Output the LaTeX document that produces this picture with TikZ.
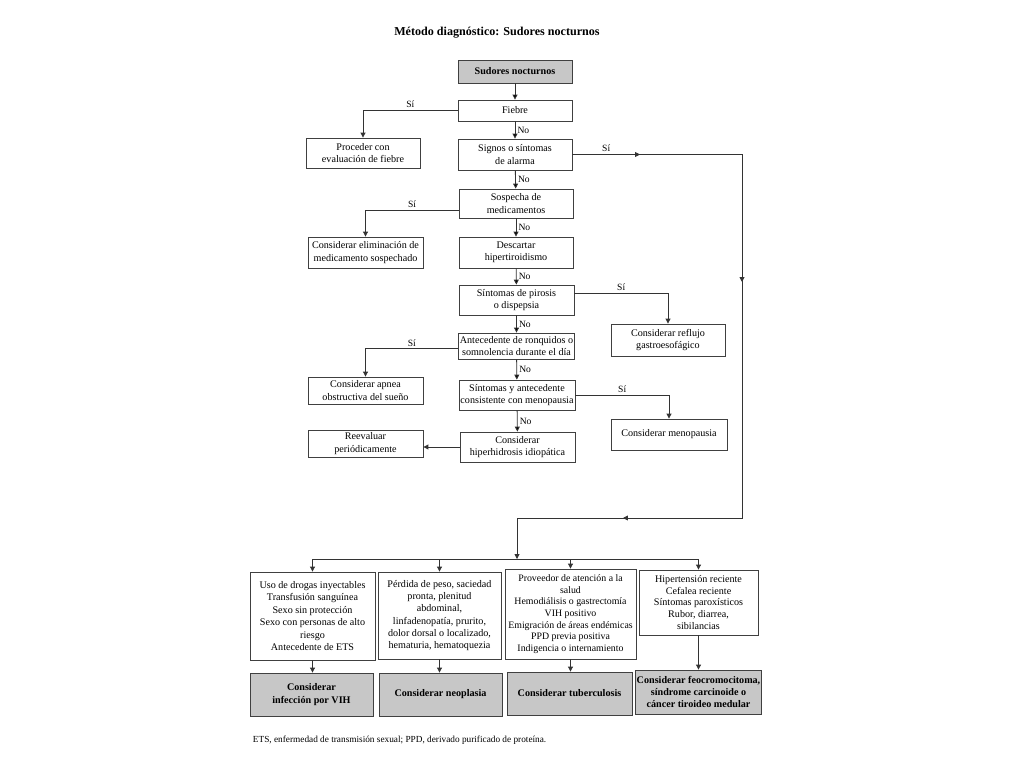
\documentclass[tikz,border=0pt]{standalone}
\usepackage{fontspec}
\setmainfont{Liberation Serif}
\usetikzlibrary{arrows.meta}

\begin{document}
\begin{tikzpicture}[x=0.025cm, y=-0.025cm]
	\tikzset{box/.style={draw=black!75, line width=0.6pt, fill=white, align=center, inner sep=1pt, minimum width=2.875cm, minimum height=0.75cm, font=\fontsize{7.2}{8.8}\selectfont}}
	\tikzset{res/.style={box, fill=black!22, font=\fontsize{7.2}{8.8}\selectfont\bfseries}}
	\tikzset{ln/.style={draw=black!80, line width=0.6pt}}
	\tikzset{ar/.style={ln, -{Triangle[length=3.5pt, width=3.5pt]}}}
	\tikzset{lbl/.style={font=\fontsize{6.8}{8}\selectfont, inner sep=1.5pt}}
	\useasboundingbox (0,0) rectangle (1024,768);
	\node[font=\fontsize{8.6}{10}\selectfont\bfseries] at (497,33) (tit) {Método diagnóstico: Sudores nocturnos};
	% main column
	\node[res, minimum width=2.85cm, minimum height=0.575cm] at (515,71.5) (sud) {Sudores nocturnos};
	\node[box, minimum width=2.85cm, minimum height=0.525cm] at (515,110.5) (fie) {Fiebre};
	\node[box, minimum width=2.85cm, minimum height=0.775cm] at (515,154.5) (sig) {Signos o síntomas\\de alarma};
	\node[box, minimum width=2.85cm, minimum height=0.725cm] at (516,203.5) (sos) {Sospecha de\\medicamentos};
	\node[box, minimum width=2.85cm, minimum height=0.775cm] at (516,252.5) (des) {Descartar\\hipertiroidismo};
	\node[box] at (516.5,300) (pir) {Síntomas de pirosis\\o dispepsia};
	\node[box, minimum height=0.65cm] at (516.5,346) (ant) {Antecedente de ronquidos o\\somnolencia durante el día};
	\node[box, minimum width=2.9cm] at (517,395) (sya) {Síntomas y antecedente\\consistente con menopausia};
	\node[box] at (517.5,447) (hip) {Considerar\\hiperhidrosis idiopática};
	% left column
	\node[box, minimum width=2.85cm] at (363,153) (pro) {Proceder con\\evaluación de fiebre};
	\node[box, minimum height=0.775cm] at (365.5,252.5) (eli) {Considerar eliminación de\\medicamento sospechado};
	\node[box, minimum height=0.675cm] at (365.5,390.5) (apn) {Considerar apnea\\obstructiva del sueño};
	\node[box, minimum height=0.675cm] at (365.5,443.5) (ree) {Reevaluar\\periódicamente};
	% right column
	\node[box, minimum width=2.85cm, minimum height=0.8cm] at (668,340) (ref) {Considerar reflujo\\gastroesofágico};
	\node[box, minimum width=2.9cm, minimum height=0.775cm] at (669,434.5) (men) {Considerar menopausia};
	% bottom row
	\node[box, minimum width=3.125cm, minimum height=2.2cm] at (312.5,616) (b1) {Uso de drogas inyectables\\Transfusión sanguínea\\Sexo sin protección\\Sexo con personas de alto\\riesgo\\Antecedente de ETS};
	\node[box, minimum width=3.075cm, minimum height=2.175cm] at (439.5,615.5) (b2) {Pérdida de peso, saciedad\\pronta, plenitud\\abdominal,\\linfadenopatía, prurito,\\dolor dorsal o localizado,\\hematuria, hematoquezia};
	\node[box, minimum width=3.275cm, minimum height=2.25cm, font=\fontsize{7}{8.3}\selectfont] at (570.5,614) (b3) {Proveedor de atención a la\\salud\\Hemodiálisis o gastrectomía\\VIH positivo\\Emigración de áreas endémicas\\PPD previa positiva\\Indigencia o internamiento};
	\node[box, minimum width=2.975cm, minimum height=1.625cm, font=\fontsize{7.2}{8.2}\selectfont] at (698.5,602.5) (b4) {Hipertensión reciente\\Cefalea reciente\\Síntomas paroxísticos\\Rubor, diarrea,\\sibilancias};
	\node[res, minimum width=3.075cm, minimum height=1.075cm] at (311.5,694.5) (g1) {Considerar\\infección por VIH};
	\node[res, minimum width=3.075cm, minimum height=1.075cm] at (440.5,694.5) (g2) {Considerar neoplasia};
	\node[res, minimum width=3.125cm, minimum height=1.075cm] at (569.5,693.5) (g3) {Considerar tuberculosis};
	\node[res, minimum width=3.075cm, minimum height=1.1cm] at (698.5,692) (g4) {Considerar feocromocitoma,\\síndrome carcinoide o\\cáncer tiroideo medular};
	\node[anchor=west, font=\fontsize{6.6}{8}\selectfont] at (248,740) (nota) {ETS, enfermedad de transmisión sexual; PPD, derivado purificado de proteína.};
	% long loop on the right
	\coordinate (m1) at (640,154.5);
	\coordinate (c1) at (742,154.5);
	\coordinate (m2) at (742,282);
	\coordinate (c2) at (742,518);
	\coordinate (m3) at (623,518);
	\coordinate (c3) at (517,518);
	\coordinate (c4) at (517,559);
	% arrows
	\path[ar] (sud) edge (fie);
	\path[ar] (fie) edge node[lbl, right] {No} (sig);
	\path[ar] (sig) edge node[lbl, right] {No} (sos);
	\path[ar] (sos) edge node[lbl, right] {No} (des);
	\path[ar] (des) edge node[lbl, right] {No} (pir);
	\path[ar] (pir) edge node[lbl, right] {No} (ant);
	\path[ar] (ant) edge node[lbl, right] {No} (sya);
	\path[ar] (sya) edge node[lbl, right] {No} (hip);
	\draw[ar] (hip.west) -- (hip.west -| ree.east);
	\draw[ar] (fie.west) -| node[lbl, above, pos=0.25] {Sí} (pro.north);
	\draw[ar] ([yshift=-0.175cm]sos.west) -| node[lbl, above, pos=0.25] {Sí} (eli.north);
	\draw[ar] ([yshift=-0.07cm]ant.west) -| node[lbl, above, pos=0.25] {Sí} (apn.north);
	\draw[ar] ([yshift=0.175cm]pir.east) -| node[lbl, above, pos=0.25] {Sí} (ref.north);
	\draw[ar] (sya.east) -| node[lbl, above, pos=0.25] {Sí} (men.north);
	\draw[ln] (sig.east) -- (c1) -- (c2) -- (c3);
	\draw[ar] (sig.east) -- node[lbl, above] {Sí} (m1);
	\draw[ar] (c1) -- (m2);
	\draw[ar] (c2) -- (m3);
	\draw[ar] (c3) -- (c4);
	\draw[ln] (b1.north |- c4) -- (b4.north |- c4);
	\draw[ar] (b1.north |- c4) -- (b1.north);
	\draw[ar] (b2.north |- c4) -- (b2.north);
	\draw[ar] (b3.north |- c4) -- (b3.north);
	\draw[ar] (b4.north |- c4) -- (b4.north);
	\draw[ar] (b1.south) -- (b1.south |- g1.north);
	\draw[ar] (b2.south) -- (b2.south |- g2.north);
	\draw[ar] (b3.south) -- (b3.south |- g3.north);
	\draw[ar] (b4.south) -- (b4.south |- g4.north);
\end{tikzpicture}
\end{document}
